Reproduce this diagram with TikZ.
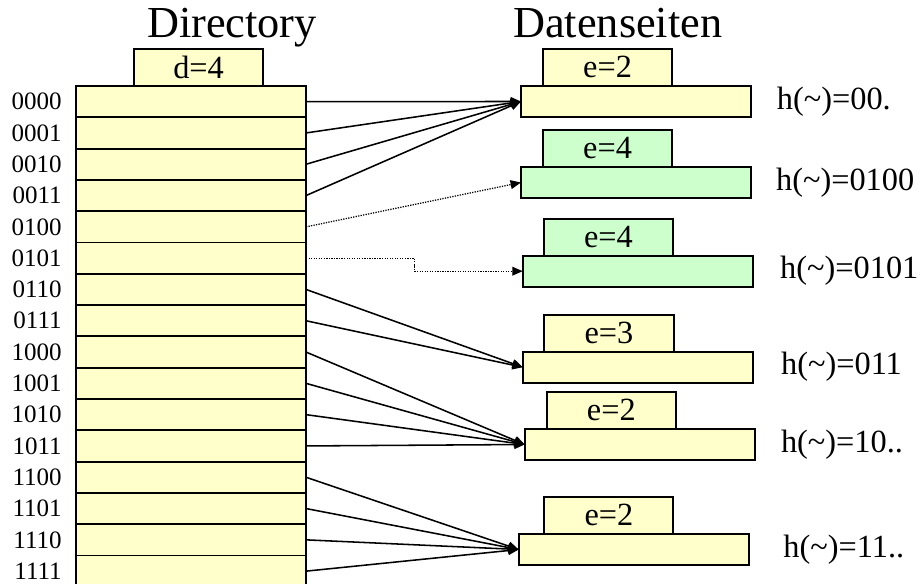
\documentclass[tikz,border=0pt]{standalone}
\usepackage{fontspec}
\setmainfont{Liberation Serif}
\definecolor{cellyellow}{HTML}{FFFFCC}
\definecolor{cellgreen}{HTML}{CCFFCC}
\tikzstyle{cell} = [draw=black, line width=1.4pt, rectangle, minimum width=5.75cm, minimum height=0.7825cm, inner sep=0pt, outer sep=0pt]
\tikzstyle{head} = [cell, minimum width=3.225cm, minimum height=0.925cm, font=\fontsize{23}{23}\selectfont]
\tikzstyle{titletext} = [inner sep=0pt, font=\fontsize{31.5}{32}\selectfont]
\tikzstyle{ptr} = [line width=1.1pt, -{Triangle[length=0.26cm, width=0.22cm]}]
\tikzstyle{dotline} = [line width=0.9pt, dash pattern=on 0.9pt off 0.9pt]
\usetikzlibrary{positioning, arrows.meta, calc}

\begin{document}
\begin{tikzpicture}[x=0.025cm, y=-0.025cm]
	\useasboundingbox (0,0) rectangle (920,584);
	%directory
	\foreach \b [count=\i from 0] in {0000,0001,0010,0011,0100,0101,0110,0111,1000,1001,1010,1011,1100,1101,1110,1111} {
		\node[cell, fill=cellyellow] (r\i) at (191, 101.65+31.3*\i) {};
		\node[left=0.35cm of r\i, inner sep=0pt, font=\fontsize{17.8}{18}\selectfont] (b\i) {\b};
	}
	\node[head, fill=cellyellow, above=0pt of r0.north, xshift=0.19cm] (dhead) {d=4};
	
	%pages
	\foreach \p/\cx/\cy/\hs/\ev/\col/\hv/\gap in {
		p1/636/101.5/-0.71/2/cellyellow/00./0.64,
		p2/636/182.5/-0.71/4/cellgreen/0100/0.62,
		p3/637.7/271.2/-0.73/4/cellgreen/0101/0.68,
		p4/637.8/367.2/-0.72/3/cellyellow/011/0.70,
		p5/639.7/444.5/-0.71/2/cellyellow/10../0.65,
		p6/633.7/549.5/-0.62/2/cellyellow/11../0.86} {
		\node[cell, fill=\col] (\p) at (\cx,\cy) {};
		\node[head, fill=\col, above=0pt of \p.north, xshift=\hs cm] (head\p) {e=\ev};
		\node[right=\gap cm of \p.east, inner sep=0pt, font=\fontsize{23}{23}\selectfont] (hash\p) {h(\textasciitilde)=\hv};
	}
	
	%labels
	\node[titletext, anchor=base] (dirtitle) at (232,38) {Directory};
	\node[titletext, anchor=base west] (pagetitle) at (513,38) {Datenseiten};
	
	%pointers
	\foreach \i in {0,...,3} \draw[ptr] (r\i.east) -- (p1.west);
	\draw[ptr, dotline] (r4.east) -- (p2.west);
	\draw[ptr, dotline] (r5.east) -| ($(r5.east)!0.5!(p3.west)$) |- (p3.west);
	\foreach \i in {6,7} \draw[ptr] (r\i.east) -- (p4.west);
	\foreach \i in {8,...,11} \draw[ptr] (r\i.east) -- (p5.west);
	\foreach \i in {12,...,15} \draw[ptr] (r\i.east) -- (p6.west);
\end{tikzpicture}
\end{document}
